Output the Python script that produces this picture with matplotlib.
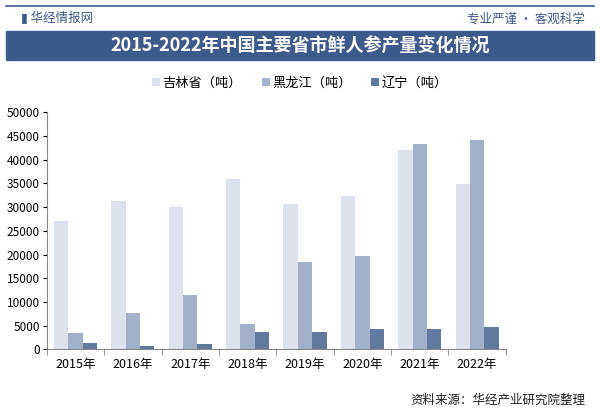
import matplotlib
matplotlib.use("Agg")
import matplotlib.pyplot as plt
import numpy as np

plt.rcParams['font.family'] = ['Noto Sans CJK SC', 'DejaVu Sans']

years = ["2015年", "2016年", "2017年", "2018年", "2019年", "2020年", "2021年", "2022年"]
jilin = [27000, 31400, 30100, 36000, 30700, 32300, 42000, 34800]
heilongjiang = [3400, 7700, 11400, 5300, 18400, 19800, 43300, 44100]
liaoning = [1300, 700, 1100, 3600, 3600, 4400, 4400, 4800]

fig = plt.figure(figsize=(6.0, 4.16), dpi=100)

# header bar and top line
fig.add_artist(plt.Line2D([0.01, 0.99], [0.985, 0.985], color="#3d5a8c", lw=1.2))
fig.text(0.035, 0.955, "\u25ae 华经情报网", fontsize=9, color="#3d5a8c", va="center")
fig.text(0.975, 0.955, "专业严谨 • 客观科学", fontsize=9, color="#3d5a8c", va="center", ha="right")
fig.add_artist(plt.Rectangle((0.01, 0.855), 0.98, 0.07, color="#3d5a8c", transform=fig.transFigure))
fig.text(0.5, 0.89, "2015-2022年中国主要省市鲜人参产量变化情况", fontsize=13,
         color="white", ha="center", va="center", fontweight="bold")

ax = fig.add_axes([0.078, 0.16, 0.765, 0.57])
x = np.arange(len(years))
w = 0.25
ax.bar(x - w, jilin, w, color="#dde2ec", label="吉林省（吨）")
ax.bar(x, heilongjiang, w, color="#a2b0c9", label="黑龙江（吨）")
ax.bar(x + w, liaoning, w, color="#62799f", label="辽宁（吨）")

ax.set_xlim(-0.5, len(years) - 0.5)
ax.set_ylim(0, 50000)
ax.set_yticks(range(0, 50001, 5000))
ax.set_xticks(x)
ax.set_xticklabels(years, fontsize=9)
ax.tick_params(axis="y", labelsize=8.5, length=3, pad=2)
ax.tick_params(axis="x", length=0, pad=6)
ax.set_xticks(np.arange(len(years) + 1) - 0.5, minor=True)
ax.tick_params(axis="x", which="minor", length=4, color="#888888")
for s in ["top", "right"]:
    ax.spines[s].set_visible(False)
ax.spines["left"].set_color("#888888")
ax.spines["bottom"].set_color("#888888")

fig.legend(loc="center", bbox_to_anchor=(0.5, 0.8), ncol=3, frameon=False,
           fontsize=9.5, handlelength=0.6, handleheight=0.6, columnspacing=1.5, handletextpad=0.2)

fig.text(0.975, 0.03, "资料来源：华经产业研究院整理", fontsize=9, color="#222222", ha="right")

fig.savefig("out.png", dpi=100)
